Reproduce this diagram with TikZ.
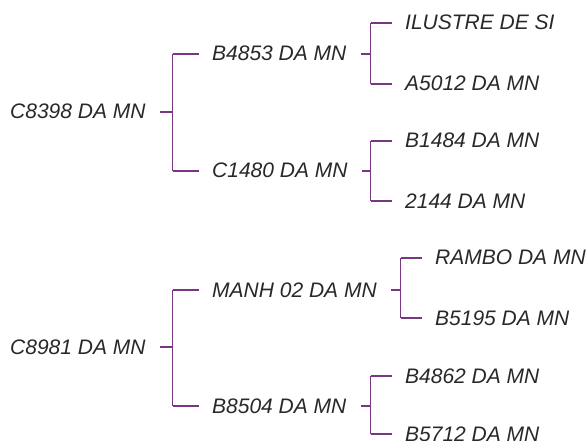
\documentclass[tikz,border=0pt]{standalone}
\usepackage{fontspec}
\setmainfont{Liberation Sans}
\definecolor{treepurple}{RGB}{122,54,133}
\definecolor{labelgray}{RGB}{40,40,40}
\tikzset{
  lbl/.style={anchor=west,inner sep=0pt,text height=14pt,text depth=0pt,text=labelgray,
    font=\fontsize{21}{24}\selectfont\itshape},
  stubline/.style={draw=treepurple,line width=2pt},
  vline/.style={draw=treepurple,line width=1.9pt},
  hline/.style={draw=treepurple,line width=1.2pt}
}
\newcommand{\fork}[5]{% parent, child a, child b, junction x, gap
  \coordinate (#1-j) at (#4,0 |- #1.west);
  \draw[stubline] ([xshift=#5]#1.east) -- (#1-j);
  \draw[vline] (#1-j |- #2.west) -- (#1-j |- #3.west);
  \draw[hline] (#1-j |- #2.west) -- ([xshift=-13pt]#2.west);
  \draw[hline] (#1-j |- #3.west) -- ([xshift=-13pt]#3.west);
}
\begin{document}
\begin{tikzpicture}[x=1pt,y=-1pt]
\useasboundingbox (0,0) rectangle (587,441);
% top tree
\node[lbl] (r1) at (10,112) {C8398 DA MN};
\node[lbl] (b1) at (212,54) {B4853 DA MN};
\node[lbl] (c1) at (212,171) {C1480 DA MN};
\node[lbl] (b1a) at (405,23) {ILUSTRE DE SI};
\node[lbl] (b1b) at (405,84) {A5012 DA MN};
\node[lbl] (c1a) at (405,141) {B1484 DA MN};
\node[lbl] (c1b) at (405,201) {2144 DA MN};
% bottom tree
\node[lbl] (r2) at (10,347) {C8981 DA MN};
\node[lbl] (m2) at (212,290) {MANH 02 DA MN};
\node[lbl] (b2) at (212,406) {B8504 DA MN};
\node[lbl] (m2a) at (435,258) {RAMBO DA MN};
\node[lbl] (m2b) at (435,318) {B5195 DA MN};
\node[lbl] (b2a) at (405,376) {B4862 DA MN};
\node[lbl] (b2b) at (405,434) {B5712 DA MN};
% connectors
\fork{r1}{b1}{c1}{172.5}{14pt}
\fork{b1}{b1a}{b1b}{370.5}{14pt}
\fork{c1}{c1a}{c1b}{370.5}{14pt}
\fork{r2}{m2}{b2}{172.5}{14pt}
\fork{m2}{m2a}{m2b}{400.5}{14pt}
\fork{b2}{b2a}{b2b}{370.5}{14pt}
\end{tikzpicture}
\end{document}
